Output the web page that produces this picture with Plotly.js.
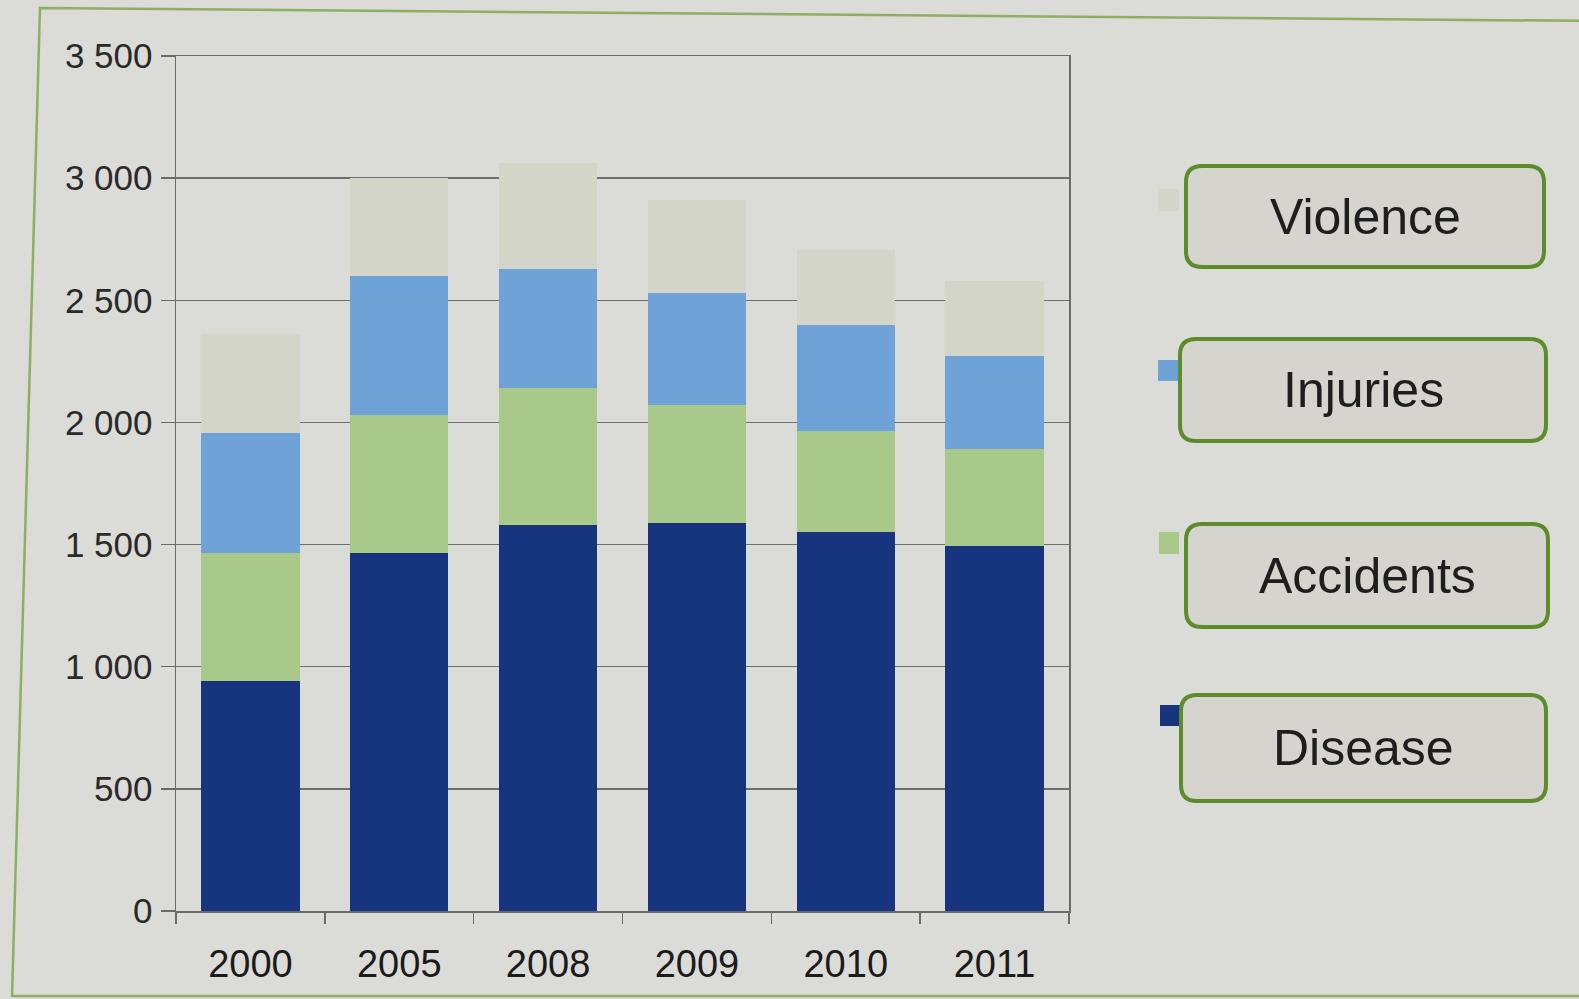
<!DOCTYPE html>
<html>
<head>
<meta charset="utf-8">
<script src="https://cdn.plot.ly/plotly-3.0.1.min.js"></script>
<style>
  html, body { margin: 0; padding: 0; background: #dbdbd8; }
  #chart { width: 1579px; height: 999px; }
</style>
</head>
<body>
<div id="chart"></div>
<script>
// ---- data ----
const categories = ['2000', '2005', '2008', '2009', '2010', '2011'];
const disease   = [940, 1465, 1580, 1590, 1550, 1495];
const accidents = [527, 565, 560, 480, 415, 395];
const injuries  = [488, 570, 490, 460, 435, 380];
const violence  = [405, 400, 430, 380, 305, 310];
const seriesNames = ['Disease', 'Accidents', 'Injuries', 'Violence'];
const yTickValues = [0, 500, 1000, 1500, 2000, 2500, 3000, 3500];

// ---- styles ----
const colors = {
  Disease: '#17347f',
  Accidents: '#a9c98a',
  Injuries: '#6fa2d6',
  Violence: '#d2d5c8'
};
const W = 1579, H = 999;
const M = { l: 176, r: 510, t: 56, b: 88 };
const px = x => (x - M.l) / (W - M.l - M.r);
const py = y => (H - M.b - y) / (H - M.t - M.b);

const seriesData = { Disease: disease, Accidents: accidents, Injuries: injuries, Violence: violence };
const traces = seriesNames.map(name => ({
  type: 'bar',
  name: name,
  x: categories,
  y: seriesData[name],
  marker: { color: colors[name], line: { width: 0 } },
  showlegend: false,
  hoverinfo: 'x+y+name'
}));

// legend boxes (rounded) drawn as shapes, labels as annotations
const legendBoxes = {
  Violence:  { box: [1186, 166, 1544, 267], mark: [1158, 189, 1179, 211] },
  Injuries:  { box: [1180, 339, 1546, 441], mark: [1158, 360, 1179, 381] },
  Accidents: { box: [1186, 524, 1548, 627], mark: [1159, 532, 1179, 554] },
  Disease:   { box: [1181, 695, 1546, 801], mark: [1160, 705, 1180, 726] }
};
function roundRect(x0, y0, x1, y1, r) {
  const p = (x, y) => px(x) + ',' + py(y);
  return 'M' + p(x0 + r, y0) +
    ' L' + p(x1 - r, y0) + ' Q' + p(x1, y0) + ' ' + p(x1, y0 + r) +
    ' L' + p(x1, y1 - r) + ' Q' + p(x1, y1) + ' ' + p(x1 - r, y1) +
    ' L' + p(x0 + r, y1) + ' Q' + p(x0, y1) + ' ' + p(x0, y1 - r) +
    ' L' + p(x0, y0 + r) + ' Q' + p(x0, y0) + ' ' + p(x0 + r, y0) + ' Z';
}
const shapes = [];
const annotations = [];
// outer green frame
shapes.push({
  type: 'path', xref: 'paper', yref: 'paper', layer: 'below',
  path: 'M' + px(12) + ',' + py(997) + ' L' + px(40) + ',' + py(8) + ' L' + px(1600) + ',' + py(21),
  line: { color: '#8fae62', width: 2.5 }
});
shapes.push({
  type: 'line', xref: 'paper', yref: 'paper', layer: 'below',
  x0: px(12), y0: py(996), x1: px(1600), y1: py(996),
  line: { color: '#8fae62', width: 2.5 }
});
seriesNames.forEach(name => {
  const b = legendBoxes[name].box, m = legendBoxes[name].mark;
  shapes.push({
    type: 'rect', xref: 'paper', yref: 'paper',
    x0: px(m[0]), y0: py(m[3]), x1: px(m[2]), y1: py(m[1]),
    fillcolor: colors[name], line: { width: 0 }
  });
  shapes.push({
    type: 'path', xref: 'paper', yref: 'paper',
    path: roundRect(b[0], b[1], b[2], b[3], 16),
    fillcolor: '#d6d4cf', line: { color: '#5c8c2c', width: 4 }
  });
  annotations.push({
    xref: 'paper', yref: 'paper',
    x: px((b[0] + b[2]) / 2), y: py((b[1] + b[3]) / 2),
    xanchor: 'center', yanchor: 'middle', showarrow: false,
    text: name,
    font: { family: 'Liberation Sans, Arial, sans-serif', size: 50, color: '#1e1e1e' }
  });
});

const layout = {
  width: W, height: H,
  margin: M,
  paper_bgcolor: '#dbdbd8',
  plot_bgcolor: '#dbdbd8',
  barmode: 'stack',
  bargap: 0.34,
  separators: ', ',
  showlegend: false,
  font: { family: 'Liberation Sans Narrow, Liberation Sans, sans-serif', color: '#222' },
  xaxis: {
    type: 'category',
    tickson: 'boundaries',
    ticks: 'outside', ticklen: 11, tickcolor: '#6a6a6a', tickwidth: 1.5,
    showline: true, linecolor: '#6a6a6a', linewidth: 1.5, mirror: true,
    showgrid: false,
    tickfont: { size: 38, color: '#1a1a1a' },
    ticklabelstandoff: 19
  },
  yaxis: {
    range: [0, 3500],
    tickvals: yTickValues,
    tickformat: ',d',
    ticks: 'outside', ticklen: 14, tickcolor: '#6a6a6a', tickwidth: 1.5,
    showline: true, linecolor: '#6a6a6a', linewidth: 1.5, mirror: true,
    showgrid: true, gridcolor: '#6e6e6e', gridwidth: 1.5,
    zeroline: false,
    tickfont: { size: 35, color: '#2a2a2a' },
    ticklabelstandoff: 1
  },
  shapes: shapes,
  annotations: annotations
};

Plotly.newPlot('chart', traces, layout, { displayModeBar: false, staticPlot: true });
</script>
</body>
</html>
